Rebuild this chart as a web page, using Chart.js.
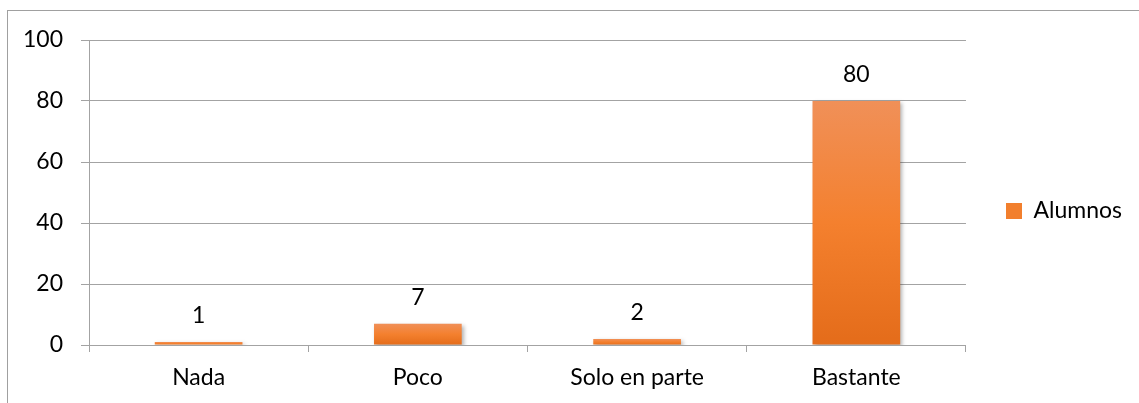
<!DOCTYPE html>
<html>
<head>
<meta charset="utf-8">
<script src="https://cdn.jsdelivr.net/npm/chart.js@4/dist/chart.umd.min.js"></script>
<style>
    body { margin: 0; background: #ffffff; }
    #wrap { position: relative; width: 1139px; height: 403px; }
    #frame {
        position: absolute; left: 7px; top: 10px; right: 0; bottom: 0;
        border-left: 1px solid #a0a0a0; border-top: 1px solid #a0a0a0;
    }
</style>
</head>
<body>
<div id="wrap">
    <div id="frame"></div>
    <canvas id="alumnosChart"></canvas>
</div>
<script>
// data for the chart
var categories = ["Nada", "Poco", "Solo en parte", "Bastante"];
var alumnos = [1, 7, 2, 80];
var seriesName = "Alumnos";
var yTicks = [0, 20, 40, 60, 80, 100];

var fontFamily = "Lato, 'Open Sans', sans-serif";
var lineGrey = '#a3a3a3';

// vertical orange gradient, one per bar (from the bar top to the baseline)
function barFill(context) {
    var chart = context.chart;
    if (!chart.chartArea || context.dataIndex === undefined) {
        return '#f27f2d';
    }
    var y = chart.scales.y;
    var top = y.getPixelForValue(context.raw);
    var base = y.getPixelForValue(0);
    if (base - top < 1) {
        top = base - 1;
    }
    var g = chart.ctx.createLinearGradient(0, top, 0, base);
    g.addColorStop(0, '#f09058');
    g.addColorStop(0.5, '#f4802e');
    g.addColorStop(1, '#e46c1a');
    return g;
}

// soft grey shadow behind the bars
var barShadow = {
    id: 'barShadow',
    beforeDatasetsDraw: function (chart) {
        var c = chart.ctx;
        c.save();
        c.shadowColor = 'rgba(0, 0, 0, 0.3)';
        c.shadowBlur = 4;
        c.shadowOffsetX = 2;
        c.shadowOffsetY = 2;
    },
    afterDatasetsDraw: function (chart) {
        chart.ctx.restore();
    }
};

// value written above every bar
var valueLabels = {
    id: 'valueLabels',
    afterDraw: function (chart) {
        var c = chart.ctx;
        var meta = chart.getDatasetMeta(0);
        c.save();
        c.font = '23px ' + fontFamily;
        c.fillStyle = '#000000';
        c.textAlign = 'center';
        c.textBaseline = 'alphabetic';
        meta.data.forEach(function (bar, i) {
            c.fillText(String(alumnos[i]), bar.x, bar.y - 19);
        });
        c.restore();
    }
};

var ctx = document.getElementById('alumnosChart').getContext('2d');
var chart = new Chart(ctx, {
    // The type of chart we want to create
    type: 'bar',

    // The data for our dataset
    data: {
        labels: categories,
        datasets: [{
            label: seriesName,
            data: alumnos,
            backgroundColor: barFill,
            borderWidth: 0,
            categoryPercentage: 1,
            barPercentage: 0.4
        }]
    },

    plugins: [barShadow, valueLabels],

    // Configuration options go here
    options: {
        responsive: true,
        maintainAspectRatio: false,
        animation: false,
        layout: {
            padding: { top: 40, right: 7, bottom: 0, left: 0 }
        },
        scales: {
            x: {
                offset: true,
                afterFit: function (scale) { scale.height = 58; },
                grid: {
                    drawOnChartArea: false,
                    drawTicks: true,
                    tickLength: 7,
                    color: lineGrey
                },
                border: { display: true, color: lineGrey },
                ticks: {
                    color: '#000000',
                    padding: 12,
                    font: { family: fontFamily, size: 23 }
                }
            },
            y: {
                min: 0,
                max: 100,
                afterFit: function (scale) { scale.width = 89; },
                afterBuildTicks: function (scale) {
                    scale.ticks = yTicks.map(function (v) { return { value: v }; });
                },
                grid: {
                    color: lineGrey,
                    tickLength: 8
                },
                border: { display: true, color: lineGrey },
                ticks: {
                    color: '#000000',
                    padding: 18,
                    font: { family: fontFamily, size: 23 }
                }
            }
        },
        plugins: {
            tooltip: { enabled: false },
            legend: {
                position: 'right',
                fullSize: false,
                // empty title keeps the legend entry a little below the middle of the plot
                title: {
                    display: true,
                    text: '',
                    padding: 0,
                    font: { size: 37, lineHeight: 1 }
                },
                labels: {
                    color: '#000000',
                    boxWidth: 16,
                    boxHeight: 16,
                    padding: 40,
                    font: { family: fontFamily, size: 23 },
                    generateLabels: function (chart) {
                        var items = Chart.defaults.plugins.legend.labels.generateLabels(chart);
                        items.forEach(function (item) {
                            item.fillStyle = '#f27f2d';
                            item.lineWidth = 0;
                        });
                        return items;
                    }
                }
            }
        }
    }
});
</script>
</body>
</html>
